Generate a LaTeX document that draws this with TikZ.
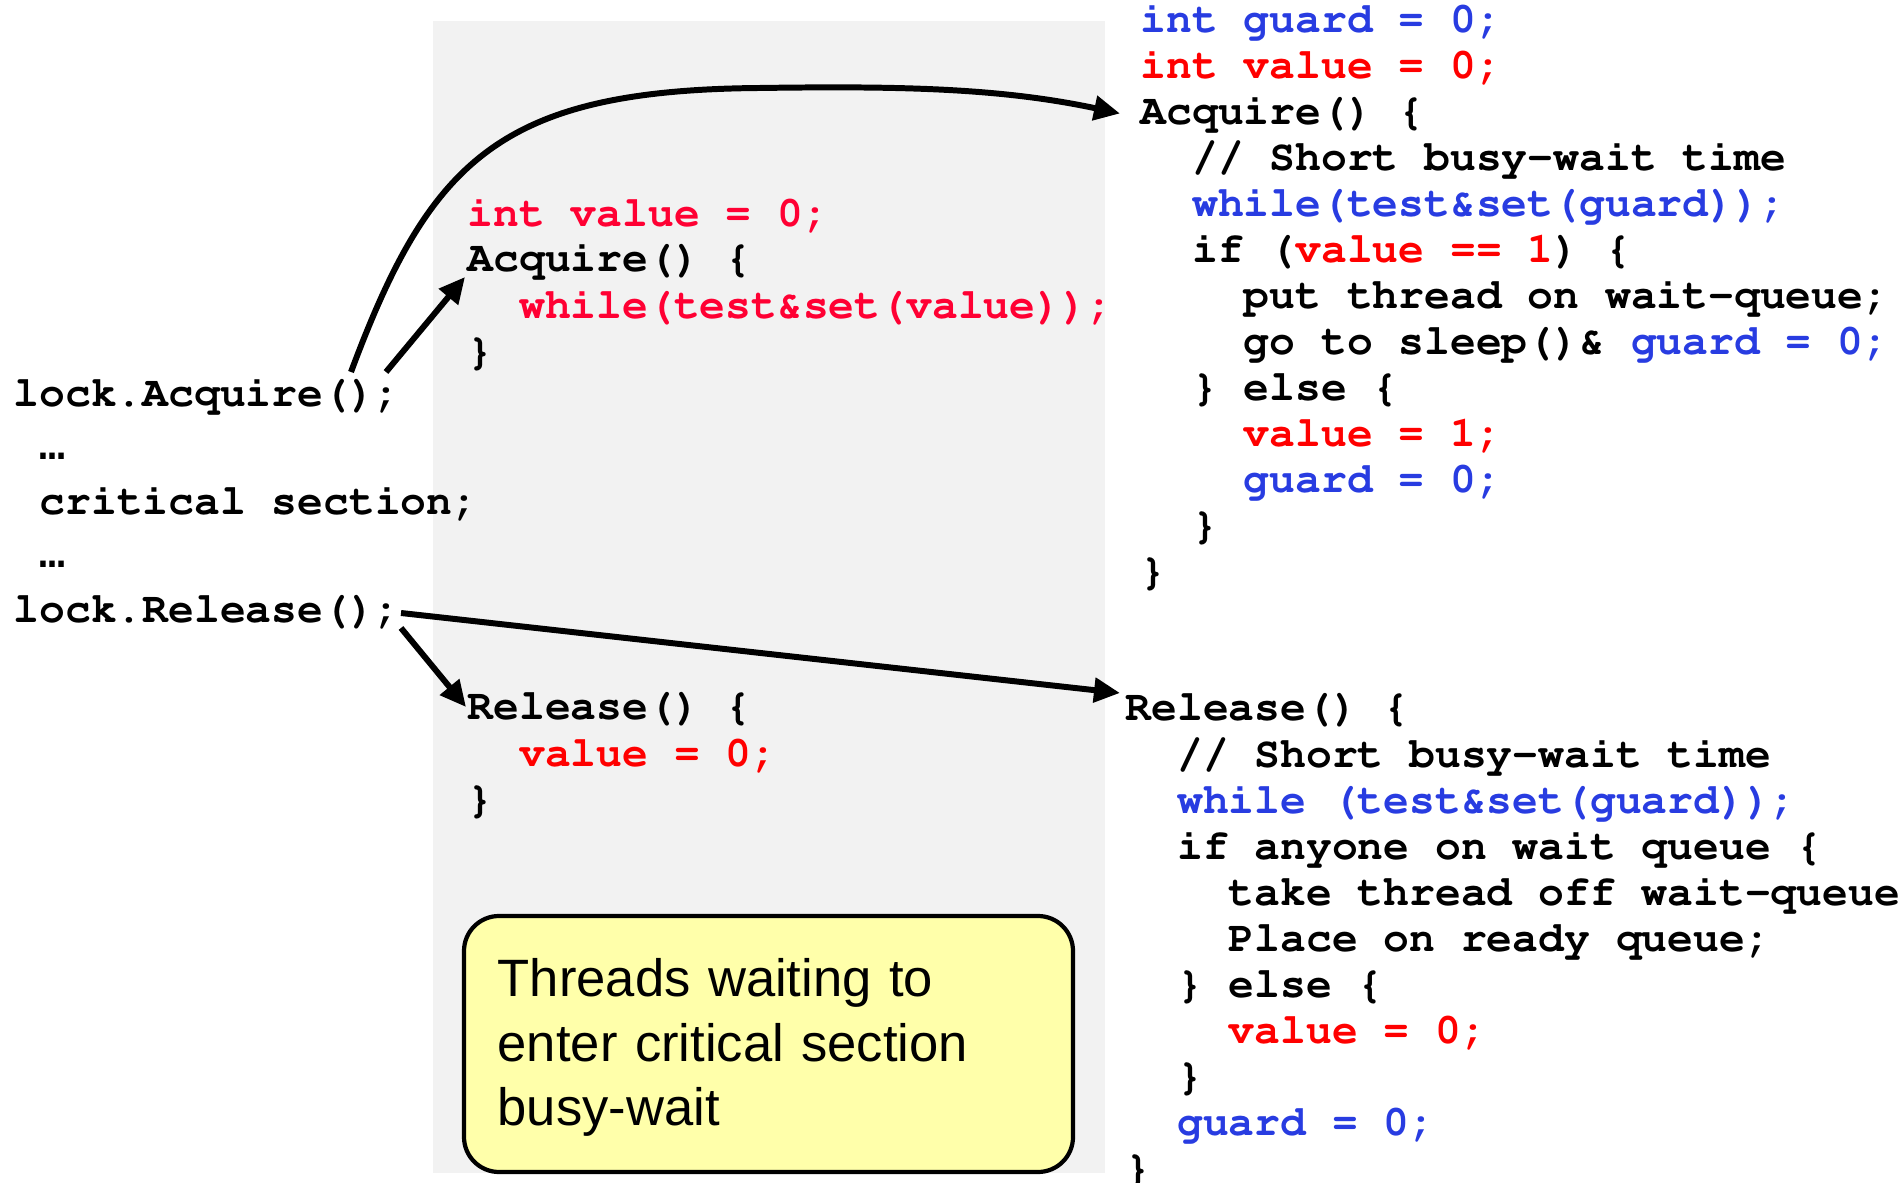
\documentclass[tikz,border=0pt]{standalone}
\usepackage[T1]{fontenc}
\usepackage{fontspec}
\usepackage{tikz}
\usetikzlibrary{arrows.meta,calc}
\newfontfamily\notefont{Liberation Sans}
\newfontfamily\dotfont{Liberation Mono}
\definecolor{codeblue}{RGB}{40,60,225}
\definecolor{codered}{RGB}{255,0,0}
\definecolor{midred}{RGB}{255,0,51}
\definecolor{panelgray}{RGB}{242,242,242}
\definecolor{notefill}{RGB}{255,255,170}
\newcommand\codefont{\fontencoding{T1}\fontfamily{pcr}\fontseries{b}\fontshape{n}\fontsize{12.23}{13.09}\selectfont}
\newcommand\ind{\hspace*{1.2em}}
\newcommand\bl[1]{\textcolor{codeblue}{#1}}
\newcommand\rd[1]{\textcolor{codered}{#1}}
\tikzstyle{code} = [anchor=base west, inner sep=0pt, text width=8cm, font=\codefont,
  execute at begin node={\spaceskip=0.6em\relax\xspaceskip=0.6em\relax}]
\tikzstyle{notetext} = [anchor=base west, inner sep=0pt, text width=5.5cm, font={\notefont\fontsize{14.95}{18.2}\selectfont}]
\tikzstyle{callarrow} = [line width=1.7pt, -{Triangle[length=0.26cm, width=0.24cm]}]

\begin{document}
\begin{tikzpicture}[x=0.01cm, y=-0.01cm]
  \useasboundingbox (0,0) rectangle (1903,1183);
  \fill[panelgray] (433,21) rectangle (1105,1173);
  \filldraw[draw=black, fill=notefill, line width=1.2pt, rounded corners=0.35cm] (464,916) rectangle (1073,1172);

  % caller
  \node (lockacq) [at={(13,407)}, code] {lock.Acquire();};
  \node (dotsa) [at={(39,460)}, code, font={\dotfont\bfseries\fontsize{12.23}{13.09}\selectfont}] {…};
  \node (crit) [at={(39,515)}, code] {critical section;};
  \node (dotsb) [at={(39,568)}, code, font={\dotfont\bfseries\fontsize{12.23}{13.09}\selectfont}] {…};
  \node (lockrel) [at={(13,623)}, code] {lock.Release();};

  % busy-wait version
  \node (mdecl) [at={(467,227)}, code] {\textcolor{midred}{int value = 0;}};
  \node (macq) [at={(467,272)}, code] {Acquire() \{\\
    \ind\textcolor{midred}{while(test\&set(value));}\\
    \}};
  \node (mrel) [at={(467,720)}, code] {Release() \{\\
    \ind\rd{value = 0;}\\
    \}};
  \node (note) [at={(497,997)}, notetext] {Threads waiting to\\enter critical section\\busy-wait};

  % guard version
  \node (rdecl) [at={(1140,32.5)}, code] {\bl{int guard = 0;}\\
    \rd{int value = 0;}};
  \node (racq) [at={(1140,124.5)}, code] {Acquire() \{\\
    \ind// Short busy-wait time\\
    \ind\bl{while(test\&set(guard));}\\
    \ind if (\rd{value == 1}) \{\\
    \ind\ind put thread on wait-queue;\\
    \ind\ind go to sleep()\& \bl{guard = 0;}\\
    \ind\} else \{\\
    \ind\ind\rd{value = 1;}\\
    \ind\ind\bl{guard = 0;}\\
    \ind\}\\
    \}};
  \node (rrel) [at={(1125,721)}, code] {Release() \{\\
    \ind// Short busy-wait time\\
    \ind\bl{while (test\&set(guard));}\\
    \ind if anyone on wait queue \{\\
    \ind\ind take thread off wait-queue\\
    \ind\ind Place on ready queue;\\
    \ind\} else \{\\
    \ind\ind\rd{value = 0;}\\
    \ind\}\\
    \ind\bl{guard = 0;}\\
    \}};

  \draw[callarrow] ($(lockacq.base west)+(338,-35)$) .. controls (430,160) and (500,90) .. (760,88)
    .. controls (900,86) and (1000,88) .. ($(racq.base west)+(-20,-11)$);
  \draw[callarrow] ($(lockacq.base west)+(373,-35)$) -- ($(macq.base west)+(-2,5)$);
  \draw[callarrow] ($(lockrel.base west)+(388,-10)$) -- ($(rrel.base west)+(-5,-28)$);
  \draw[callarrow] ($(lockrel.base west)+(388,5)$) -- ($(mrel.base west)+(-1,-13)$);
\end{tikzpicture}
\end{document}
